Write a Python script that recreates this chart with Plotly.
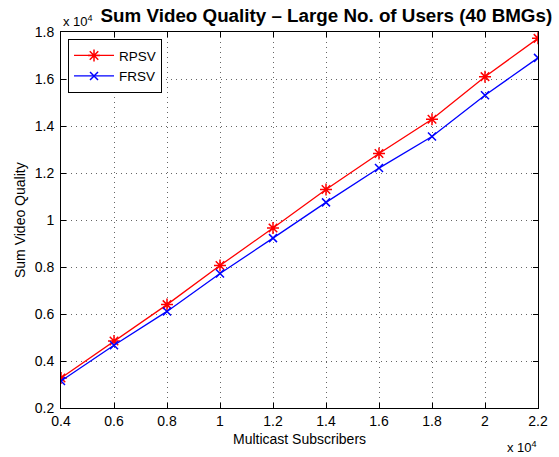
import plotly.graph_objects as go

subscribers = [0.4, 0.6, 0.8, 1.0, 1.2, 1.4, 1.6, 1.8, 2.0, 2.2]
rpsv = [0.328, 0.485, 0.640, 0.806, 0.966, 1.130, 1.283, 1.429, 1.610, 1.773]
frsv = [0.315, 0.467, 0.611, 0.772, 0.923, 1.075, 1.221, 1.355, 1.531, 1.690]

x_ticks = [0.4, 0.6, 0.8, 1.0, 1.2, 1.4, 1.6, 1.8, 2.0, 2.2]
x_tick_labels = ["0.4", "0.6", "0.8", "1", "1.2", "1.4", "1.6", "1.8", "2", "2.2"]
y_ticks = [0.2, 0.4, 0.6, 0.8, 1.0, 1.2, 1.4, 1.6, 1.8]
y_tick_labels = ["0.2", "0.4", "0.6", "0.8", "1", "1.2", "1.4", "1.6", "1.8"]

FONT = "Liberation Sans, Arial, Helvetica, sans-serif"

fig = go.Figure()
fig.add_trace(go.Scatter(
    x=subscribers, y=rpsv, name="RPSV", mode="lines+markers",
    line=dict(color="#ff0000", width=1.3),
    marker=dict(symbol="asterisk-open", size=10, color="#ff0000",
                line=dict(color="#ff0000", width=1.5)),
))
fig.add_trace(go.Scatter(
    x=subscribers, y=frsv, name="FRSV", mode="lines+markers",
    line=dict(color="#0000ff", width=1.3),
    marker=dict(symbol="x-thin-open", size=8, color="#0000ff",
                line=dict(color="#0000ff", width=1.5)),
))

axis_common = dict(
    showline=True, linecolor="black", linewidth=1, mirror="ticks",
    ticks="inside", ticklen=5, tickcolor="black", tickwidth=1,
    showgrid=True, gridcolor="rgba(0,0,0,0.6)", griddash="1px,4px", gridwidth=1,
    zeroline=False, automargin=False,
    tickfont=dict(family=FONT, size=14, color="black"),
)

fig.update_layout(
    width=559, height=457,
    margin=dict(l=61, r=21, t=32, b=49),
    paper_bgcolor="white", plot_bgcolor="white",
    font=dict(family=FONT, size=12, color="black"),
    title=dict(text="<b>Sum Video Quality \u2013 Large No. of Users (40 BMGs)</b>",
               x=311 / 559, xanchor="center", xref="paper",
               y=1 - 15 / 457, yanchor="middle",
               font=dict(family=FONT, size=18.8, color="black")),
    xaxis=dict(range=[0.4, 2.2], tickvals=x_ticks, ticktext=x_tick_labels,
               ticklabelstandoff=0, **axis_common),
    yaxis=dict(range=[0.2, 1.8], tickvals=y_ticks, ticktext=y_tick_labels,
               ticklabelstandoff=3, **axis_common),
    legend=dict(x=0.0147, y=0.981, xanchor="left", yanchor="top",
                bgcolor="white", bordercolor="black", borderwidth=1,
                font=dict(family=FONT, size=13.5), tracegroupgap=0,
                itemwidth=40),
    showlegend=True,
)

# axis titles
fig.add_annotation(text="Multicast Subscribers", xref="paper", yref="paper",
                   x=0.5, y=0.0, xanchor="center", yanchor="middle", yshift=-31,
                   showarrow=False, font=dict(family=FONT, size=14))
fig.add_annotation(text="Sum Video Quality", xref="paper", yref="paper",
                   x=0.0, y=0.5, xanchor="center", yanchor="middle", xshift=-41,
                   textangle=-90, showarrow=False, font=dict(family=FONT, size=14))

# exponent labels
fig.add_annotation(text="x 10<sup>4</sup>", xref="paper", yref="paper",
                   x=0.0, y=1.0, xanchor="left", yanchor="bottom", yshift=1,
                   showarrow=False, font=dict(family=FONT, size=13))
fig.add_annotation(text="x 10<sup>4</sup>", xref="paper", yref="paper",
                   x=1.0, y=0.0, xanchor="right", yanchor="top", yshift=-29,
                   xshift=1, showarrow=False, font=dict(family=FONT, size=13))

fig.write_html(
    "out.html",
    config={"displayModeBar": False},
    post_script="document.body.style.margin='0';document.body.style.overflow='hidden';",
)
